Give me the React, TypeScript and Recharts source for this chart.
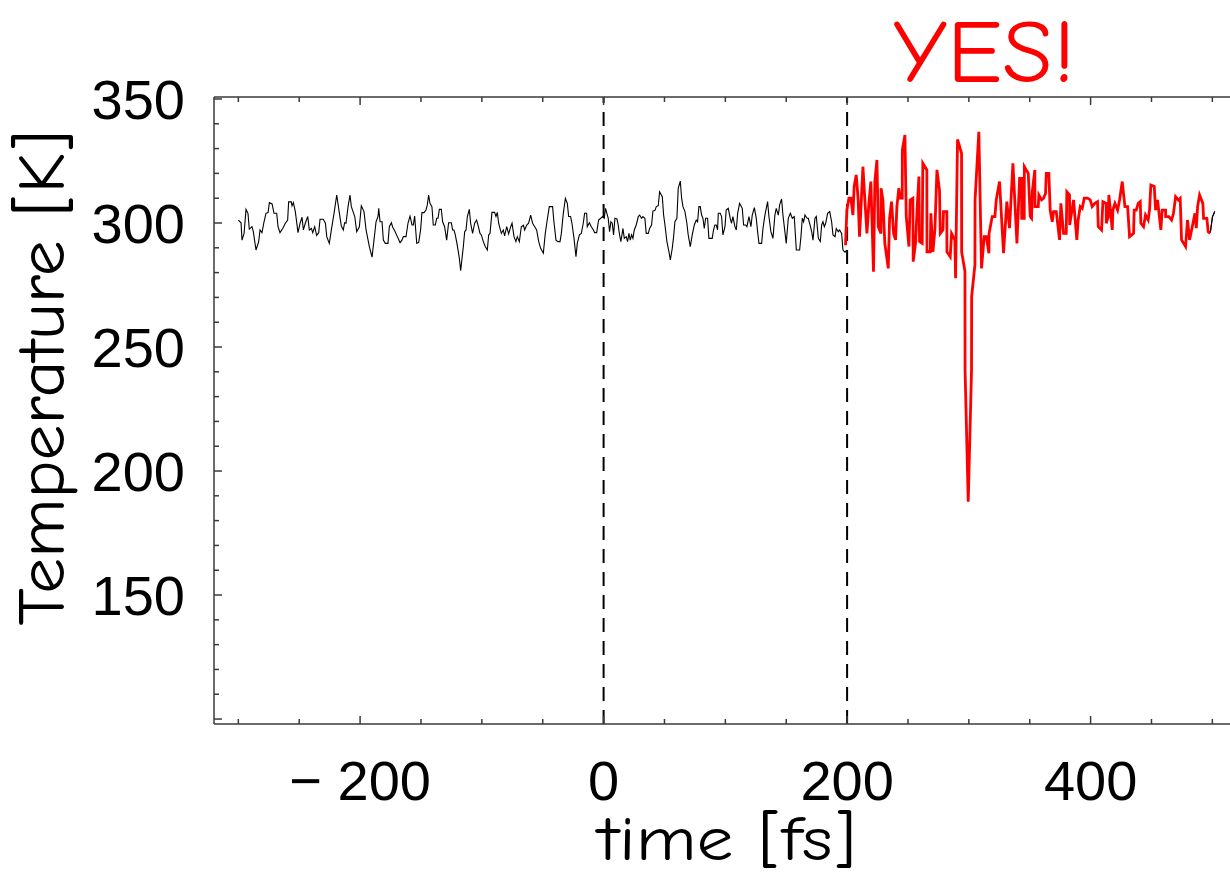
import React from 'react';
import { LineChart, Line, XAxis, YAxis, ReferenceLine } from 'recharts';

// ---- data (time in fs, temperature in K) ----
const blackTime = [
  -300.0, -297.8, -297.0, -295.3, -293.7, -292.1, -291.0, -288.8, -287.7, -285.5,
  -283.3, -282.2, -280.6, -278.9, -277.3, -275.6, -274.5, -272.3, -270.7, -268.5,
  -267.4, -265.8, -263.6, -261.4, -259.5, -258.7, -256.5, -255.9, -254.8, -253.2,
  -251.0, -249.3, -247.7, -246.6, -245.0, -243.0, -241.7, -240.0, -238.9, -237.3,
  -235.7, -234.0, -232.9, -230.2, -228.5, -227.4, -225.3, -223.6, -221.4, -219.2,
  -217.0, -215.4, -213.8, -212.7, -211.6, -209.9, -208.3, -207.2, -204.4, -202.8,
  -200.6, -199.0, -196.8, -195.1, -192.4, -190.2, -188.6, -186.9, -185.3, -184.7,
  -183.6, -182.0, -180.9, -179.3, -177.1, -176.0, -174.3, -173.2, -171.6, -169.4,
  -167.2, -165.6, -164.5, -162.3, -160.6, -159.0, -157.3, -156.3, -155.2, -153.5,
  -151.9, -150.3, -149.2, -147.5, -145.9, -144.8, -143.7, -142.6, -141.0, -139.9,
  -138.2, -137.1, -136.0, -134.9, -133.3, -132.2, -130.6, -128.9, -127.3, -125.1,
  -124.0, -122.9, -121.8, -120.2, -118.5, -117.4, -115.2, -114.1, -113.0, -111.9,
  -110.3, -109.2, -107.6, -105.9, -104.3, -103.2, -101.5, -100.4, -98.8, -97.2,
  -95.5, -94.4, -93.3, -91.7, -89.5, -88.4, -87.3, -86.2, -85.1, -84.0,
  -82.4, -81.3, -79.6, -78.0, -76.3, -75.2, -73.6, -72.0, -70.9, -69.2,
  -67.6, -65.9, -64.8, -63.2, -61.6, -59.9, -58.3, -56.6, -55.0, -53.3,
  -51.7, -49.5, -47.9, -46.2, -44.6, -41.9, -40.8, -39.1, -37.5, -35.8,
  -34.7, -33.1, -31.4, -29.8, -28.7, -27.1, -26.0, -24.3, -22.7, -21.6,
  -19.9, -18.3, -16.7, -15.6, -13.9, -13.4, -11.7, -10.1, -8.4, -7.3,
  -5.7, -4.1, -2.4, -0.8, 0.5, 1.6, 2.7, 3.8, 4.9, 6.0,
  7.1, 8.2, 9.3, 11.0, 12.0, 13.1, 14.2, 15.9, 17.0, 18.6,
  19.7, 20.8, 21.9, 23.0, 24.1, 25.2, 26.8, 28.5, 29.6, 31.2,
  32.3, 33.9, 35.0, 36.7, 37.8, 39.4, 40.5, 42.2, 43.3, 44.9,
  46.0, 48.2, 49.3, 50.4, 52.0, 53.7, 54.8, 56.4, 57.5, 58.6,
  60.2, 61.3, 63.0, 64.1, 65.2, 66.8, 68.4, 69.5, 71.2, 72.8,
  74.5, 76.1, 77.2, 78.3, 79.4, 80.5, 81.6, 82.7, 83.8, 85.4,
  86.5, 89.2, 90.3, 91.4, 92.5, 93.6, 94.2, 95.8, 96.9, 98.0,
  99.7, 100.7, 102.4, 104.0, 105.1, 106.2, 107.9, 109.0, 110.1, 111.7,
  113.9, 115.0, 116.6, 117.7, 119.4, 121.0, 122.1, 123.8, 125.4, 126.5,
  127.6, 129.8, 130.9, 132.5, 134.7, 135.8, 137.4, 139.1, 140.7, 141.8,
  143.5, 144.6, 146.2, 147.3, 148.9, 150.0, 151.7, 153.4, 155.0, 156.6,
  158.3, 161.0, 162.1, 163.2, 164.3, 165.4, 167.1, 168.1, 169.2, 170.9,
  172.0, 173.6, 174.7, 176.4, 178.0, 179.1, 180.2, 181.3, 182.4, 184.0,
  185.7, 187.3, 188.4, 190.1, 191.1, 192.8, 193.9, 195.5, 196.6, 198.3,
  199.5,
];
const blackTemp = [
  301.2, 300.1, 293.1, 295.8, 305.5, 303.9, 297.5, 298.5, 296.5, 289.1,
  292.5, 297.2, 296.1, 300.5, 303.9, 304.2, 308.2, 307.7, 303.9, 303.9,
  298.5, 296.1, 297.8, 299.9, 301.2, 308.5, 308.5, 306.9, 308.2, 304.6,
  296.1, 299.9, 302.3, 297.2, 299.9, 302.6, 297.2, 297.8, 296.1, 298.5,
  295.0, 296.1, 301.5, 301.5, 299.9, 294.5, 291.8, 297.2, 303.9, 311.3,
  303.9, 298.8, 297.2, 300.1, 299.9, 306.6, 311.3, 306.6, 302.6, 296.5,
  298.5, 306.9, 304.6, 297.2, 290.5, 286.2, 293.1, 300.5, 302.6, 305.9,
  300.5, 300.5, 293.1, 291.8, 291.8, 298.5, 300.1, 298.3, 296.9, 294.5,
  292.1, 293.1, 294.5, 294.5, 300.1, 302.8, 299.2, 299.2, 302.8, 291.8,
  292.1, 297.2, 304.2, 304.2, 305.2, 307.3, 311.3, 307.9, 306.6, 299.2,
  299.2, 301.9, 301.9, 305.5, 305.5, 300.5, 298.5, 293.1, 300.1, 300.1,
  297.2, 297.2, 295.2, 291.1, 285.8, 280.8, 290.5, 296.5, 297.2, 302.6,
  305.5, 299.9, 295.8, 299.9, 301.2, 299.2, 295.8, 295.2, 292.5, 290.5,
  289.1, 295.2, 295.8, 304.3, 304.3, 302.6, 304.3, 299.9, 297.8, 295.8,
  297.2, 294.8, 298.5, 295.6, 298.5, 299.9, 294.5, 292.5, 294.5, 292.5,
  298.5, 299.1, 297.2, 299.2, 299.9, 303.2, 299.9, 298.5, 297.2, 292.5,
  289.8, 287.8, 295.8, 301.5, 306.6, 306.6, 300.5, 293.1, 292.5, 292.5,
  295.8, 303.9, 309.9, 307.9, 302.6, 302.6, 299.9, 293.8, 286.4, 291.8,
  295.2, 295.8, 299.9, 303.9, 303.9, 298.5, 300.1, 298.5, 297.2, 296.1,
  296.1, 301.2, 301.9, 302.6, 301.9, 305.9, 303.9, 301.9, 296.5, 300.5,
  299.9, 295.2, 301.9, 301.6, 299.2, 295.2, 292.5, 297.8, 293.8, 294.5,
  292.5, 295.8, 293.1, 295.2, 293.8, 297.2, 299.2, 302.6, 303.2, 301.9,
  302.6, 301.9, 295.8, 295.8, 297.8, 299.2, 304.8, 305.1, 306.6, 307.0,
  312.6, 310.6, 303.2, 299.2, 292.5, 288.4, 285.1, 289.8, 294.5, 300.5,
  301.9, 314.0, 316.9, 309.9, 306.6, 304.6, 299.9, 295.2, 290.5, 295.2,
  299.2, 301.2, 300.5, 306.6, 306.6, 303.2, 301.9, 297.8, 301.9, 301.9,
  293.8, 293.8, 297.2, 299.2, 299.2, 297.2, 303.9, 303.9, 302.6, 295.2,
  298.5, 305.2, 305.9, 301.9, 299.9, 302.6, 298.5, 297.2, 303.9, 307.9,
  305.9, 299.2, 299.2, 298.5, 302.6, 298.5, 303.2, 306.2, 301.9, 296.5,
  291.8, 291.8, 297.8, 303.2, 308.6, 302.6, 296.5, 293.8, 303.2, 305.9,
  303.2, 307.3, 309.7, 303.2, 296.5, 291.8, 301.9, 303.9, 301.9, 302.6,
  289.1, 289.1, 294.5, 301.9, 300.5, 303.2, 301.9, 301.9, 299.9, 296.5,
  293.1, 301.9, 302.6, 293.8, 292.5, 299.2, 300.5, 298.5, 299.9, 303.9,
  304.6, 300.5, 295.2, 294.5, 297.8, 296.5, 297.2, 295.8, 289.1, 288.2,
  289.0,
];

const redTime = [
  198.7, 199.8, 201.5, 203.1, 204.8, 205.8, 207.5, 209.1, 210.2, 211.3,
  213.0, 214.6, 216.3, 217.9, 219.5, 221.7, 222.8, 224.5, 225.6, 227.8,
  227.9, 229.4, 231.0, 233.8, 234.9, 236.5, 238.2, 239.8, 240.9, 242.5,
  243.6, 245.3, 245.4, 247.5, 248.6, 250.8, 251.8, 254.0, 254.3, 256.2,
  257.9, 259.0, 259.5, 261.7, 262.2, 265.5, 265.6, 268.3, 268.8, 270.5,
  272.1, 273.8, 275.9, 276.5, 278.7, 279.2, 281.9, 282.0, 284.7, 285.8,
  288.5, 289.1, 290.7, 294.0, 294.1, 296.8, 296.9, 299.5, 302.2, 302.3,
  305.0, 305.1, 308.2, 310.4, 312.6, 314.3, 316.5, 316.6, 319.2, 321.4,
  322.5, 325.2, 328.5, 331.2, 333.4, 336.2, 339.5, 341.7, 343.3, 343.4,
  345.5, 345.6, 348.8, 350.4, 351.5, 352.1, 354.2, 354.3, 357.0, 357.5,
  359.7, 361.4, 363.0, 363.6, 365.7, 366.8, 368.5, 369.6, 371.8, 374.5,
  375.6, 377.8, 380.0, 380.5, 382.7, 382.8, 386.0, 388.7, 389.8, 391.5,
  393.1, 394.8, 397.5, 399.7, 401.3, 403.5, 405.7, 406.3, 409.0, 410.1,
  412.8, 412.9, 414.5, 415.0, 417.8, 418.3, 420.0, 422.2, 423.8, 426.0,
  428.2, 430.4, 432.0, 435.3, 435.8, 437.5, 439.1, 440.8, 441.3, 443.5,
  445.1, 447.3, 448.4, 449.5, 452.3, 453.4, 455.0, 457.7, 458.8, 461.6,
  461.7, 464.3, 466.5, 468.1, 469.8, 472.0, 473.6, 474.7, 478.0, 479.6,
  481.3, 483.5, 485.7, 486.8, 487.9, 489.5, 492.2, 492.8, 495.5, 496.6,
  498.3,
];
const redTemp = [
  291.0, 305.2, 310.0, 310.0, 303.2, 314.7, 319.4, 309.3, 294.5, 305.2,
  322.7, 309.3, 295.8, 307.9, 316.7, 280.4, 316.7, 325.4, 298.5, 295.8,
  314.0, 309.3, 291.8, 281.7, 301.9, 308.6, 295.8, 293.2, 306.6, 314.0,
  310.0, 310.0, 329.4, 335.5, 302.6, 290.5, 309.3, 310.0, 284.4, 291.8,
  309.3, 318.7, 292.5, 291.8, 324.1, 321.4, 288.4, 288.4, 303.9, 288.4,
  297.2, 321.4, 313.3, 295.8, 297.2, 304.6, 304.6, 288.4, 286.4, 295.8,
  293.2, 277.7, 333.7, 328.1, 288.4, 280.4, 240.7, 187.6, 240.7, 270.3,
  283.1, 309.3, 336.8, 281.7, 294.5, 294.5, 287.8, 295.8, 302.6, 302.6,
  309.3, 316.7, 287.8, 308.6, 297.9, 324.1, 291.8, 318.0, 318.0, 301.9,
  301.9, 322.7, 320.0, 302.6, 301.9, 312.6, 321.4, 306.6, 306.6, 311.3,
  309.3, 310.0, 312.0, 320.0, 320.0, 305.2, 300.5, 304.6, 304.6, 293.2,
  307.9, 295.8, 295.8, 312.6, 311.3, 299.2, 309.3, 293.2, 301.2, 306.6,
  305.9, 310.0, 310.0, 309.3, 306.6, 307.9, 308.6, 298.5, 297.2, 308.6,
  307.9, 299.9, 302.6, 311.3, 297.2, 305.2, 307.9, 305.2, 309.3, 316.7,
  306.6, 306.6, 294.5, 295.8, 305.2, 305.2, 307.9, 308.6, 299.9, 298.5,
  303.2, 301.2, 305.2, 315.3, 314.7, 305.2, 309.3, 297.2, 305.2, 305.2,
  302.6, 302.6, 301.2, 303.9, 310.6, 309.3, 310.0, 293.2, 290.5, 301.2,
  293.2, 298.5, 303.9, 297.9, 306.6, 311.3, 307.9, 301.9, 301.9, 296.5,
  295.8,
];

const tailTime = [498.3, 500.1, 502.0];
const tailTemp = [296.0, 302.5, 304.6];

const xTicks = [-300, -250, -200, -150, -100, -50, 0, 50, 100, 150, 200, 250, 300, 350, 400, 450, 500];
const xLabels: Record<number, string> = { [-200]: '\u2212 200', 0: '0', 200: '200', 400: '400' };
const yTicks = [100, 110, 120, 130, 140, 150, 160, 170, 180, 190, 200, 210, 220, 230, 240, 250, 260, 270, 280, 290, 300, 310, 320, 330, 340, 350];
const yLabels: Record<number, string> = { 150: '150', 200: '200', 250: '250', 300: '300', 350: '350' };
const dashedAt = [0, 200];

const toRows = (ts: number[], vs: number[]) => ts.map((t, i) => ({ t, T: vs[i] }));
const blackData = toRows(blackTime, blackTemp);
const redData = toRows(redTime, redTemp);
const tailData = toRows(tailTime, tailTemp);

const AXIS = '#3a3a3a';
const TICK_FONT = '"Liberation Sans", Arial, Helvetica, sans-serif';
const TITLE_FONT = '"Comic Sans MS", "Comic Neue", "Noto Sans", sans-serif';
const TICK_SIZE = 56;

const BottomTick = (props: any) => {
  const { x, y, payload } = props;
  const v = payload.value as number;
  const major = v % 200 === 0;
  const lab = xLabels[v];
  return (
    <g>
      <line x1={x} y1={y} x2={x} y2={y - (major ? 8 : 5)} stroke={AXIS} strokeWidth={1.5} />
      {lab !== undefined && (
        <text x={x} y={y + 76} textAnchor="middle" fontFamily={TICK_FONT} fontSize={TICK_SIZE} fill="#000">
          {lab}
        </text>
      )}
    </g>
  );
};

const TopTick = (props: any) => {
  const { x, y, payload } = props;
  const v = payload.value as number;
  const major = v % 200 === 0;
  return <line x1={x} y1={y} x2={x} y2={y + (major ? 8 : 5)} stroke={AXIS} strokeWidth={1.5} />;
};

const LeftTick = (props: any) => {
  const { x, y, payload } = props;
  const v = payload.value as number;
  const major = v % 50 === 0;
  const lab = yLabels[v];
  return (
    <g>
      <line x1={x} y1={y} x2={x + (major ? 8 : 5)} y2={y} stroke={AXIS} strokeWidth={1.5} />
      {lab !== undefined && (
        <text x={x - 29} y={y + 20} textAnchor="end" fontFamily={TICK_FONT} fontSize={TICK_SIZE} fill="#000">
          {lab}
        </text>
      )}
    </g>
  );
};

export default function App() {
  return (
    <div style={{ position: 'absolute', left: 0, top: 0, width: 1230, height: 877, background: '#fff' }}>
      <LineChart width={1230} height={877} margin={{ top: 96, right: 0, bottom: 0, left: 0 }}>
        <XAxis
          xAxisId="top"
          orientation="top"
          type="number"
          dataKey="t"
          domain={[-320, 514.5]}
          allowDataOverflow
          ticks={xTicks}
          interval={0}
          height={1}
          tickSize={0}
          tickMargin={0}
          tickLine={false}
          tick={TopTick}
          axisLine={{ stroke: AXIS, strokeWidth: 1.5 }}
        />
        <XAxis
          type="number"
          dataKey="t"
          domain={[-320, 514.5]}
          allowDataOverflow
          ticks={xTicks}
          interval={0}
          height={153}
          tickSize={0}
          tickMargin={0}
          tickLine={false}
          tick={BottomTick}
          axisLine={{ stroke: AXIS, strokeWidth: 1.5 }}
        />
        <YAxis
          type="number"
          dataKey="T"
          domain={[98, 350.8]}
          allowDataOverflow
          ticks={yTicks}
          interval={0}
          width={214}
          tickSize={0}
          tickMargin={0}
          tickLine={false}
          tick={LeftTick}
          axisLine={{ stroke: AXIS, strokeWidth: 1.5 }}
        />
        {dashedAt.map((d) => (
          <ReferenceLine key={d} x={d} stroke="#000" strokeWidth={2} strokeDasharray="14 9" />
        ))}
        <Line data={blackData} dataKey="T" type="linear" stroke="#000" strokeWidth={1.1} dot={false} isAnimationActive={false} />
        <Line data={tailData} dataKey="T" type="linear" stroke="#000" strokeWidth={1.1} dot={false} isAnimationActive={false} />
        <Line xAxisId="top" data={tailData} dataKey="T" type="linear" stroke="#000" strokeWidth={1.1} dot={false} isAnimationActive={false} />
        <Line data={redData} dataKey="T" type="linear" stroke="#ff0000" strokeWidth={2.8} dot={false} isAnimationActive={false} />
      </LineChart>
      <svg width={1230} height={877} style={{ position: 'absolute', left: 0, top: 0, pointerEvents: 'none' }}>
        <text x={727} y={860} textAnchor="middle" fontFamily={TITLE_FONT} fontSize={62} textLength={258} lengthAdjust="spacingAndGlyphs" fill="#000">
          time [fs]
        </text>
        <text x={64} y={378} transform="rotate(-90 64 378)" textAnchor="middle" fontFamily={TITLE_FONT} fontSize={66} textLength={495} lengthAdjust="spacingAndGlyphs" fill="#000">
          Temperature [K]
        </text>
        <text x={984} y={82} textAnchor="middle" fontFamily={TITLE_FONT} fontSize={88} textLength={182} lengthAdjust="spacingAndGlyphs" fill="#ff0000">
          YES!
        </text>
      </svg>
    </div>
  );
}
